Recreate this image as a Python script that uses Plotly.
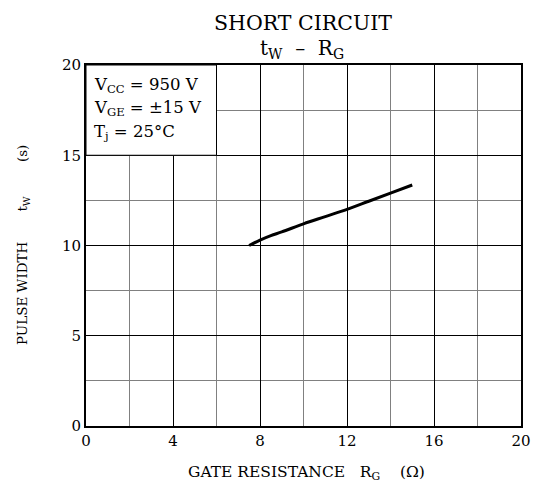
import plotly.graph_objects as go

# Data
rg = [7.5, 8.0, 8.5, 9.0, 10.0, 11.0, 12.0, 13.0, 14.0, 15.0]
tw = [10.0, 10.3, 10.55, 10.75, 11.2, 11.6, 12.0, 12.45, 12.9, 13.35]

x_ticks = [0, 4, 8, 12, 16, 20]
y_ticks = [0, 5, 10, 15, 20]

FONT = "DejaVu Serif"
NB = "\u00a0"

# plot area target: x 86..521, y 65..426
PL, PT, PW, PH = 86, 65, 435, 361
W, H = 533, 489


def px(x):
    return (x - PL) / PW


def py(y):
    return (PT + PH - y) / PH


fig = go.Figure()
fig.add_trace(go.Scatter(x=rg, y=tw, mode="lines", line=dict(color="black", width=3, shape="spline"),
                         hoverinfo="skip", showlegend=False))

fig.update_layout(
    width=W, height=H,
    margin=dict(l=PL, r=W - PL - PW, t=PT, b=H - PT - PH, autoexpand=False),
    paper_bgcolor="white", plot_bgcolor="white",
    font=dict(family=FONT, size=15, color="black"),
    showlegend=False,
)
fig.update_xaxes(
    range=[0, 20], tickvals=x_ticks, ticktext=[str(v) for v in x_ticks],
    showgrid=True, gridcolor="black", gridwidth=1,
    minor=dict(dtick=2, tick0=0, showgrid=True, gridcolor="#808080", gridwidth=1),
    showline=True, linecolor="black", linewidth=2, mirror=True,
    ticks="", zeroline=False, tickfont=dict(family=FONT, size=15), automargin=False,
)
fig.update_yaxes(
    range=[0, 20], tickvals=y_ticks, ticktext=[str(v) for v in y_ticks],
    showgrid=True, gridcolor="black", gridwidth=1,
    minor=dict(dtick=2.5, tick0=0, showgrid=True, gridcolor="#808080", gridwidth=1),
    showline=True, linecolor="black", linewidth=2, mirror=True,
    ticks="", zeroline=False, tickfont=dict(family=FONT, size=15), automargin=False,
)

# condition box
fig.add_shape(type="rect", xref="x", yref="y", x0=0, x1=6, y0=15, y1=20,
              fillcolor="white", line=dict(color="black", width=1), layer="between")

cond = ["V<sub>CC</sub> = 950 V", "V<sub>GE</sub> = \u00b115 V", "T<sub>j</sub> = 25\u00b0C"]
cond_y = [85, 109, 132]
for t, yy in zip(cond, cond_y):
    fig.add_annotation(text=t, xref="paper", yref="paper", x=px(92), y=py(yy),
                       xanchor="left", yanchor="middle", showarrow=False,
                       font=dict(family=FONT, size=16.5))

# titles
fig.add_annotation(text="SHORT CIRCUIT", xref="paper", yref="paper", x=px(303), y=py(23),
                   xanchor="center", yanchor="middle", showarrow=False, font=dict(family=FONT, size=20.5))
fig.add_annotation(text="t<sub>W</sub>" + NB * 2 + "\u2013" + NB * 2 + "R<sub>G</sub>", xref="paper", yref="paper",
                   x=px(302), y=py(49),
                   xanchor="center", yanchor="middle", showarrow=False, font=dict(family=FONT, size=20))
fig.add_annotation(text="GATE RESISTANCE" + NB * 3 + "R<sub>G</sub>" + NB * 4 + "(\u03a9)", xref="paper", yref="paper",
                   x=px(306), y=py(473),
                   xanchor="center", yanchor="middle", showarrow=False, font=dict(family=FONT, size=15.5))
fig.add_annotation(text="PULSE WIDTH" + NB * 7 + "t<sub>W</sub>" + NB * 8 + "(s)", xref="paper", yref="paper",
                   x=px(23), y=py(245), textangle=-90,
                   xanchor="center", yanchor="middle", showarrow=False, font=dict(family=FONT, size=13.5))

# remove the default 8px body margin so the figure fills the window exactly
fig.write_html("out.html", config={"displayModeBar": False},
               post_script="document.body.style.margin='0';document.body.style.overflow='hidden';")
